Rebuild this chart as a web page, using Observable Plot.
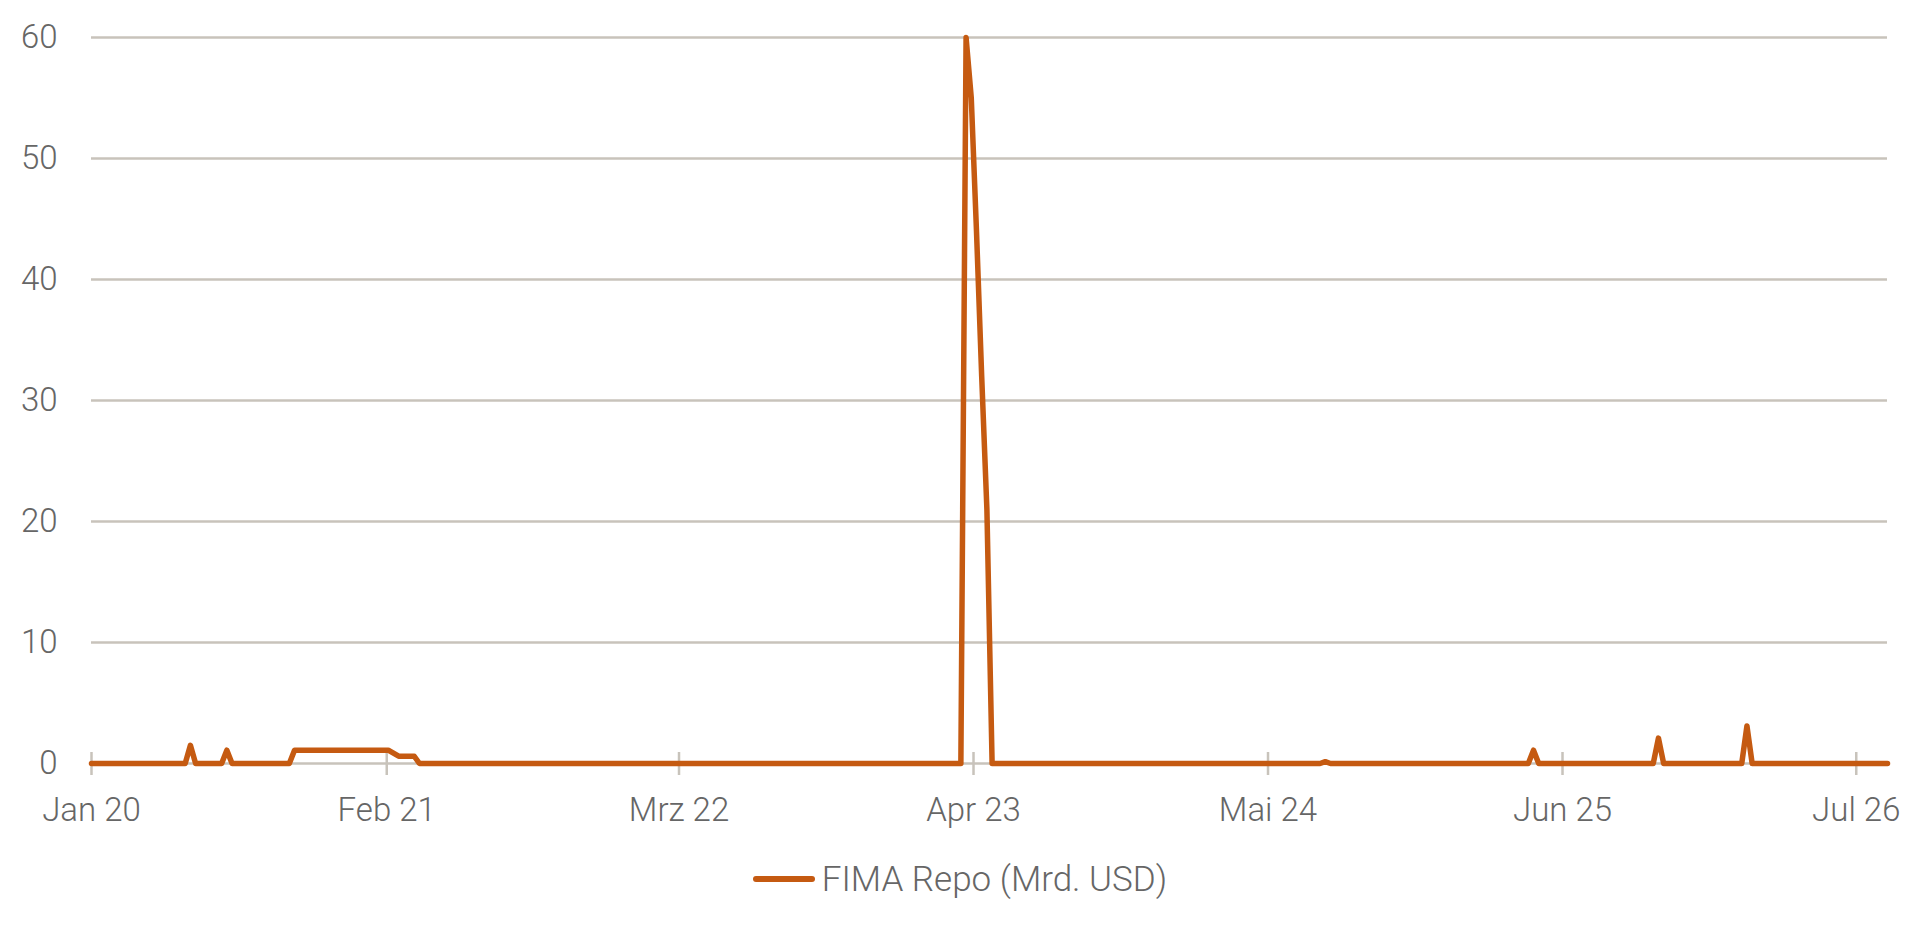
<!DOCTYPE html>
<html>
<head>
<meta charset="utf-8">
<script src="https://cdn.jsdelivr.net/npm/d3@7"></script>
<script src="https://cdn.jsdelivr.net/npm/@observablehq/plot@0.6"></script>
<style>
  body { margin: 0; background: #fff; font-family: Roboto, "Open Sans", sans-serif; font-weight: 300; }
  #legend { display: flex; justify-content: center; align-items: center; height: 40px; margin-top: 19px;
            color: #666; font-size: 35px; font-weight: 300; }
  #legend .sw { width: 62px; height: 6px; border-radius: 3px; background: #c55a11; margin-right: 7px; }
</style>
</head>
<body>
<div id="chart"></div>
<div id="legend"><span class="sw"></span><span>FIMA Repo (Mrd. USD)</span></div>
<script>
// Wochenwerte (Mittwoch), nur Knickpunkte der Linie
const dates = [
  "2020-01-01", "2020-05-06", "2020-05-13", "2020-05-20",
  "2020-06-24", "2020-07-01", "2020-07-08",
  "2020-09-23", "2020-09-30", "2021-02-03", "2021-02-17", "2021-03-10", "2021-03-17",
  "2023-03-15", "2023-03-22", "2023-03-29", "2023-04-05", "2023-04-12", "2023-04-19", "2023-04-26",
  "2024-07-10", "2024-07-17", "2024-07-24",
  "2025-04-16", "2025-04-23", "2025-04-30",
  "2025-10-01", "2025-10-08", "2025-10-15",
  "2026-01-28", "2026-02-04", "2026-02-11",
  "2026-08-12"
]
const values = [
  0, 0, 1.5, 0,
  0, 1.1, 0,
  0, 1.1, 1.1, 0.6, 0.6, 0,
  0, 60, 55, 44, 32, 21, 0,
  0, 0.15, 0,
  0, 1.1, 0,
  0, 2.1, 0,
  0, 3.1, 0,
  0
]
const xTicks = ["2020-01-01", "2021-02-01", "2022-03-01", "2023-04-01", "2024-05-01", "2025-06-01", "2026-07-01"]
const xTickLabels = ["Jan 20", "Feb 21", "Mrz 22", "Apr 23", "Mai 24", "Jun 25", "Jul 26"]
const yTicks = [0, 10, 20, 30, 40, 50, 60]

const parse = d3.utcParse("%Y-%m-%d")
const data = dates.map((d, i) => ({date: parse(d), value: values[i]}))
const tickDates = xTicks.map(parse)

const gridColor = "#c8c3bb"
const textColor = "#666"

const chart = Plot.plot({
  width: 1920,
  height: 840,
  marginLeft: 91,
  marginRight: 33,
  marginTop: 37,
  marginBottom: 77,
  style: {fontFamily: "Roboto, 'Open Sans', sans-serif", fontWeight: 300, background: "#fff"},
  x: {type: "utc", domain: [parse("2020-01-01"), parse("2026-08-12")]},
  y: {domain: [0, 60]},
  marks: [
    Plot.gridY(yTicks, {stroke: gridColor, strokeOpacity: 1, strokeWidth: 2.5}),
    Plot.ruleX(tickDates, {x: d => d, y1: 0, y2: 0, insetTop: -11, insetBottom: -12, stroke: gridColor, strokeWidth: 2.5}),
    Plot.axisY(yTicks, {tickSize: 0, tickPadding: 34, fontSize: 33, fill: textColor, label: null}),
    Plot.axisX(tickDates, {
      tickSize: 0, tickPadding: 34, fontSize: 33, fill: textColor, label: null,
      tickFormat: (d, i) => xTickLabels[i]
    }),
    Plot.line(data, {x: "date", y: "value", stroke: "#c55a11", strokeWidth: 5.5, strokeLinejoin: "round", strokeLinecap: "round"})
  ]
})
d3.select("#chart").append(() => chart)
</script>
</body>
</html>
